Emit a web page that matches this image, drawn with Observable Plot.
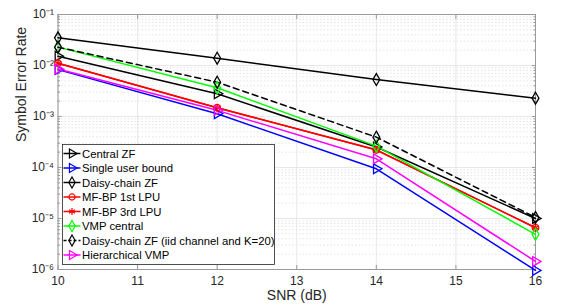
<!DOCTYPE html>
<html><head><meta charset="utf-8">
<script src="https://cdn.jsdelivr.net/npm/d3@7"></script>
<script src="https://cdn.jsdelivr.net/npm/@observablehq/plot@0.6"></script>
<style>body{margin:0;background:#fff;font-family:"Liberation Sans",Arial,sans-serif;}</style>
</head><body><div id="chart"></div>
<script>
const snr = [10, 12, 14, 16];
const seriesNames = ["Central ZF","Single user bound","Daisy-chain ZF","MF-BP 1st LPU","MF-BP 3rd LPU","VMP central","Daisy-chain ZF (iid channel and K=20)","Hierarchical VMP"];
const centralZF  = [0.0152, 0.00279, 0.000252, 1.0e-5];
const singleUser = [0.0083, 0.00113, 0.0000944, 0.96e-6];
const daisyZF    = [0.0349, 0.0139, 0.00531, 0.00229];
const mfbp1      = [0.0111, 0.00148, 0.000222, 6.6e-6];
const mfbp3      = [0.0111, 0.00148, 0.000220, 6.6e-6];
const vmpCentral = [0.0229, 0.00365, 0.000262, 4.9e-6];
const daisyIid   = [0.0229, 0.00471, 0.000394, 1.05e-5];
const hierVMP    = [0.0085, 0.00132, 0.000148, 1.44e-6];
const seriesValues = [centralZF, singleUser, daisyZF, mfbp1, mfbp3, vmpCentral, daisyIid, hierVMP];
const colors  = ["#000000","#0000ff","#000000","#ff0000","#ff0000","#00ff00","#000000","#ff00ff"];
const symbols = ["triangle","triangle","diamond","circle","asterisk","diamond","diamond","triangle"];
const dashes  = [null,null,null,null,null,null,"6,4",null];
const xTicks = [10, 11, 12, 13, 14, 15, 16];
const yTicks = [1e-6, 1e-5, 1e-4, 1e-3, 1e-2, 1e-1];

const yMinor = [];
yTicks.slice(0, -1).forEach(t => { for (let k = 2; k <= 9; k++) yMinor.push(t * k); });

const sup = {"-":"⁻","0":"⁰","1":"¹","2":"²","3":"³","4":"⁴","5":"⁵","6":"⁶","7":"⁷","8":"⁸","9":"⁹"};
const fmtY = d => "10" + String(Math.round(Math.log10(d))).split("").map(c => sup[c]).join("");

const rows = [];
seriesValues.forEach((vals, i) => vals.forEach((v, j) => rows.push({snr: snr[j], ser: v, s: i})));

const W = 568, H = 307, ml = 57.5, mr = 33, mt = 14, mb = 38;
const axisColor = "#262626", boxColor = "#9a9a9a";

const seriesMarks = [];
seriesValues.forEach((vals, i) => {
  const d = rows.filter(r => r.s === i);
  seriesMarks.push(Plot.line(d, {x: "snr", y: "ser", stroke: colors[i], strokeWidth: 1.5, strokeDasharray: dashes[i] || undefined}));
});
seriesValues.forEach((vals, i) => {
  const d = rows.filter(r => r.s === i);
  seriesMarks.push(Plot.dot(d, {x: "snr", y: "ser", symbol: () => symbols[i], stroke: colors[i], fill: "none", strokeWidth: 1.3,
    r: symbols[i] === "circle" ? 3.3 : 3.6, rotate: symbols[i] === "triangle" ? 90 : 0}));
});

const chart = Plot.plot({
  width: W, height: H, marginLeft: ml, marginRight: mr, marginTop: mt, marginBottom: mb,
  style: {fontFamily: "'Liberation Sans', Arial, sans-serif", fontSize: "12px", color: axisColor, background: "#fff"},
  x: {domain: [10, 16]},
  y: {type: "log", domain: [1e-6, 1e-1]},
  symbol: {type: "identity"},
  marks: [
    Plot.ruleY(yMinor, {stroke: "#d8d8d8", strokeDasharray: "1.5,2", strokeWidth: 0.7}),
    Plot.ruleY(yTicks, {stroke: "#e2e2e2", strokeWidth: 0.8}),
    Plot.ruleX(xTicks, {stroke: "#e2e2e2", strokeWidth: 0.8}),
    Plot.frame({stroke: boxColor, strokeWidth: 1}),
    Plot.axisX({ticks: xTicks, tickSize: 0, tickPadding: 7, tickFormat: d => String(d), label: null, fill: axisColor}),
    Plot.axisX({ticks: xTicks, tickSize: -4, tickFormat: () => "", label: null, stroke: boxColor}),
    Plot.axisX({ticks: xTicks, anchor: "top", tickSize: -4, tickFormat: () => "", label: null, stroke: boxColor}),
    Plot.axisY({ticks: yTicks, tickSize: 0, tickPadding: 4, tickFormat: fmtY, label: null, fill: axisColor}),
    Plot.axisY({ticks: yTicks, tickSize: -4, tickFormat: () => "", label: null, stroke: boxColor}),
    Plot.axisY({ticks: yTicks, anchor: "right", tickSize: -4, tickFormat: () => "", label: null, stroke: boxColor}),
    Plot.axisY({ticks: yMinor, tickSize: -2.5, tickFormat: () => "", label: null, stroke: boxColor}),
    Plot.axisY({ticks: yMinor, anchor: "right", tickSize: -2.5, tickFormat: () => "", label: null, stroke: boxColor}),
    Plot.text(["Symbol Error Rate"], {frameAnchor: "left", rotate: -90, dx: -36, fontSize: 14, fill: axisColor}),
    Plot.text(["SNR (dB)"], {frameAnchor: "bottom", dy: 30.5, fontSize: 14, fill: axisColor}),
    ...seriesMarks
  ]
});

// legend
const svg = d3.select(chart);
const lg = svg.append("g").attr("transform", "translate(62.5,144.5)");
lg.append("rect").attr("width", 212).attr("height", 120).attr("fill", "#fff").attr("stroke", "#262626").attr("stroke-width", 0.8);
const symMap = {triangle: d3.symbolTriangle, diamond: d3.symbolDiamond, circle: d3.symbolCircle, asterisk: d3.symbolAsterisk};
seriesNames.forEach((name, i) => {
  const y = 9 + i * 14.5;
  const g = lg.append("g").attr("transform", `translate(0,${y})`);
  g.append("line").attr("x1", 1).attr("x2", 18).attr("y1", 0).attr("y2", 0).attr("stroke", colors[i]).attr("stroke-width", 1.5)
    .attr("stroke-dasharray", dashes[i] ? "3,2" : null);
  const size = symbols[i] === "circle" ? 30 : 34;
  g.append("path").attr("d", d3.symbol(symMap[symbols[i]], size)()).attr("fill", "none").attr("stroke", colors[i]).attr("stroke-width", 1.2)
    .attr("transform", `translate(9.5,0) rotate(${symbols[i] === "triangle" ? 90 : 0})`);
  g.append("text").attr("x", 19.5).attr("y", 0).attr("dy", "0.36em").attr("text-anchor", "start")
    .attr("font-size", 11.3).attr("fill", "#000").text(name);
});

document.getElementById("chart").appendChild(chart);
</script></body></html>
